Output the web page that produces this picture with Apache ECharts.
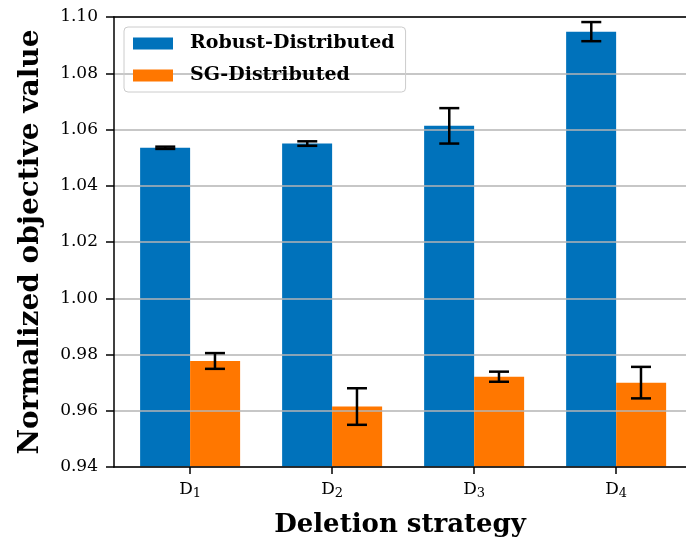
<!DOCTYPE html>
<html>
<head>
<meta charset="utf-8">
<script src="https://cdn.jsdelivr.net/npm/echarts@6/dist/echarts.min.js"></script>
<style>
html, body { margin: 0; padding: 0; background: #fff; }
#chart { width: 686px; height: 543px; }
</style>
</head>
<body>
<div id="chart"></div>
<script>
// data
var categories = ['1', '2', '3', '4']; // D subscripts
var categoryPos = [0, 1, 2, 3];
var robustMean = [1.0535, 1.0550, 1.0613, 1.0948];
var robustErr = [0.0004, 0.0008, 0.0063, 0.0034];
var sgMean = [0.9777, 0.9615, 0.9721, 0.9700];
var sgErr = [0.0028, 0.0065, 0.0018, 0.0056];
var yMin = 0.94, yMax = 1.10, yStep = 0.02;

var FONT = 'DejaVu Serif';
var barShift = 0.175;
var xMin = -0.536, xMax = 3.492;

function barData(means) {
	var d = [];
	for (var i = 0; i < means.length; i++) d.push([categoryPos[i], means[i]]);
	return d;
}
function errData(means, errs, shift) {
	var d = [];
	for (var i = 0; i < means.length; i++) d.push([categoryPos[i] + shift, means[i] - errs[i], means[i] + errs[i]]);
	return d;
}
// error bar with caps
function renderErr(params, api) {
	var top = api.coord([api.value(0), api.value(2)]);
	var bot = api.coord([api.value(0), api.value(1)]);
	var cap = 10;
	var st = { stroke: '#000', lineWidth: 2.5 };
	return {
		type: 'group',
		children: [
			{ type: 'line', shape: { x1: top[0], y1: top[1], x2: bot[0], y2: bot[1] }, style: st },
			{ type: 'line', shape: { x1: top[0] - cap, y1: top[1], x2: top[0] + cap, y2: top[1] }, style: st },
			{ type: 'line', shape: { x1: bot[0] - cap, y1: bot[1], x2: bot[0] + cap, y2: bot[1] }, style: st }
		]
	};
}

var myChart = echarts.init(document.getElementById('chart'));
var option = {
	animation: false,
	backgroundColor: '#fff',
	textStyle: { fontFamily: FONT, color: '#000' },
	grid: { left: 114, right: -4, top: 17, bottom: 74 },
	legend: {
		orient: 'vertical',
		left: 124,
		top: 27,
		padding: [7, 11, 7, 9],
		itemGap: 13,
		itemWidth: 40,
		itemHeight: 12,
		icon: 'rect',
		borderColor: '#cccccc',
		borderWidth: 1,
		borderRadius: 4,
		data: ['Robust-Distributed', 'SG-Distributed'],
		textStyle: { fontFamily: FONT, fontWeight: 'bold', fontSize: 19, color: '#000', lineHeight: 16, padding: [0, 0, 0, 12] }
	},
	xAxis: [{
		type: 'value',
		min: xMin,
		max: xMax,
		z: 4,
		splitLine: { show: false },
		axisLine: { show: true, onZero: false, lineStyle: { color: '#000', width: 1.5 } },
		axisTick: { show: true, customValues: categoryPos, length: 7, lineStyle: { color: '#000', width: 1.5 } },
		axisLabel: {
			customValues: categoryPos,
			margin: 13,
			formatter: function(v) {
				return '{d|D}{s|' + categories[Math.round(v)] + '}';
			},
			rich: {
				d: { fontFamily: FONT, fontSize: 17, color: '#000' },
				s: { fontFamily: FONT, fontSize: 13, color: '#000', padding: [7, 0, 0, 0] }
			}
		},
		name: 'Deletion strategy',
		nameLocation: 'middle',
		nameGap: 45,
		nameTextStyle: { fontFamily: FONT, fontWeight: 'bold', fontSize: 26, color: '#000' }
	}, {
		// top spine
		type: 'value',
		position: 'top',
		min: xMin,
		max: xMax,
		z: 4,
		splitLine: { show: false },
		axisTick: { show: false },
		axisLabel: { show: false },
		axisLine: { show: true, onZero: false, lineStyle: { color: '#000', width: 1.5 } }
	}],
	yAxis: {
		type: 'value',
		min: yMin,
		max: yMax,
		interval: yStep,
		z: 3,
		axisLine: { show: true, onZero: false, lineStyle: { color: '#000', width: 1.5 } },
		axisTick: { show: true, length: 8, lineStyle: { color: '#000', width: 1.5 } },
		axisLabel: {
			margin: 16,
			fontFamily: FONT,
			fontSize: 17,
			color: '#000',
			formatter: function(v) { return v.toFixed(2); }
		},
		splitLine: { show: true, lineStyle: { color: '#b4b4b4', width: 1.5 } },
		name: 'Normalized objective value',
		nameLocation: 'middle',
		nameGap: 69,
		nameTextStyle: { fontFamily: FONT, fontWeight: 'bold', fontSize: 28, color: '#000' }
	},
	series: [{
		name: 'Robust-Distributed',
		type: 'bar',
		barWidth: 50,
		barGap: '0%',
		itemStyle: { color: '#0072bb' },
		data: barData(robustMean)
	}, {
		name: 'SG-Distributed',
		type: 'bar',
		barWidth: 50,
		barGap: '0%',
		itemStyle: { color: '#ff7700' },
		data: barData(sgMean)
	}, {
		type: 'custom',
		z: 5,
		renderItem: renderErr,
		encode: { x: 0, y: [1, 2] },
		data: errData(robustMean, robustErr, -barShift)
	}, {
		type: 'custom',
		z: 5,
		renderItem: renderErr,
		encode: { x: 0, y: [1, 2] },
		data: errData(sgMean, sgErr, barShift)
	}]
};
myChart.setOption(option);
window.onresize = myChart.resize;
</script>
</body>
</html>
